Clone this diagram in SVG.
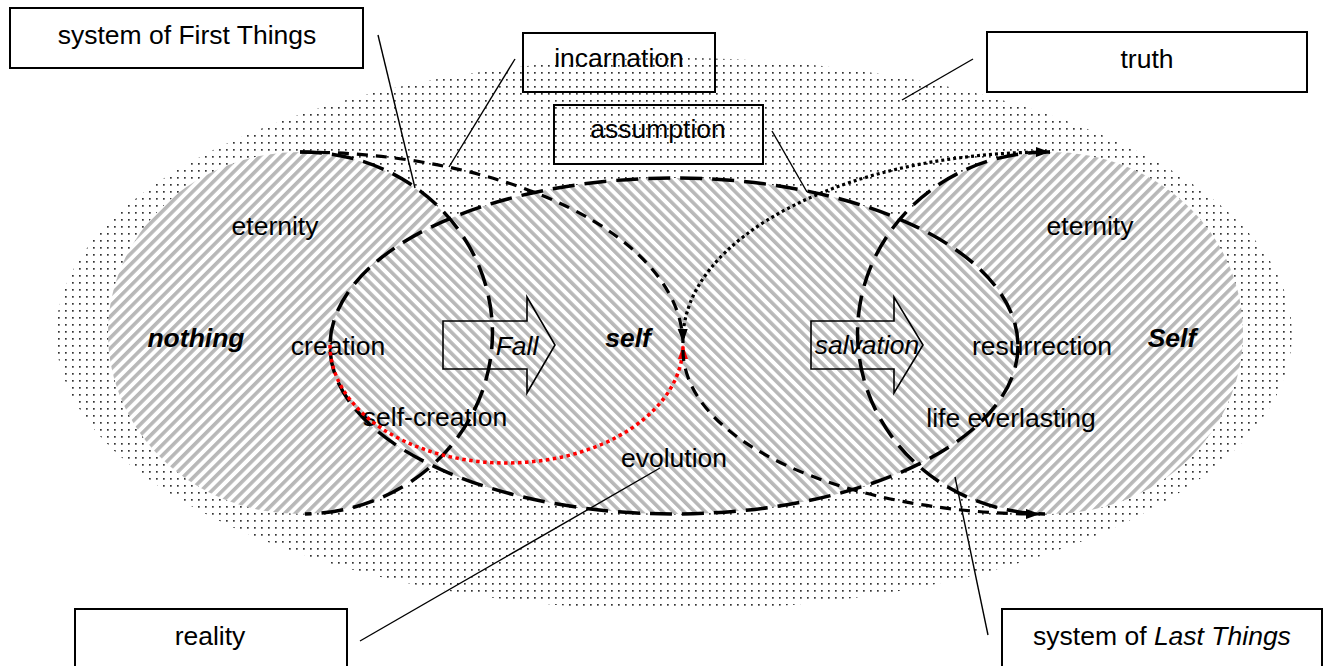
<svg xmlns="http://www.w3.org/2000/svg" width="1325" height="666" viewBox="0 0 1325 666">
<style>
text{font-family:"Liberation Sans",Arial,sans-serif;font-size:26.5px;fill:#000}
.c{text-anchor:middle}
.bi{font-weight:bold;font-style:italic}
.it{font-style:italic}
.box{fill:none;stroke:#000;stroke-width:2}
.lead{fill:none;stroke:#000;stroke-width:1.4}
.longdash{fill:none;stroke:#000;stroke-width:3.5;stroke-dasharray:22 10}
.shortdash{fill:none;stroke:#000;stroke-width:3.2;stroke-dasharray:11 8}
.dotk{fill:none;stroke:#000;stroke-width:3.2;stroke-dasharray:3 3}
.dotr{fill:none;stroke:#f00;stroke-width:3.5;stroke-dasharray:3.5 3.5}
.blk{fill:none;stroke:#000;stroke-width:1.6}
</style>
<defs>
<pattern id="dots" width="7" height="7" patternUnits="userSpaceOnUse"><rect x="2" y="2" width="1.7" height="1.7" fill="#333"/></pattern>
<pattern id="hatchR" width="7.5" height="7.5" patternUnits="userSpaceOnUse" patternTransform="rotate(45)"><rect width="7.5" height="7.5" fill="#fff"/><rect width="3.6" height="7.5" fill="#b8b8b8"/></pattern>
<pattern id="hatchL" width="7.5" height="7.5" patternUnits="userSpaceOnUse" patternTransform="rotate(-45)"><rect width="7.5" height="7.5" fill="#fff"/><rect width="3.6" height="7.5" fill="#b8b8b8"/></pattern>
<marker id="ak" markerUnits="userSpaceOnUse" markerWidth="16" markerHeight="12" refX="14" refY="6" orient="auto"><path d="M0,1 L14,6 L0,11 Z" fill="#000"/></marker>
<marker id="ar" markerUnits="userSpaceOnUse" markerWidth="16" markerHeight="12" refX="14" refY="6" orient="auto"><path d="M0,1 L14,6 L0,11 Z" fill="#f00"/></marker>
</defs>
<rect width="1325" height="666" fill="#fff"/>

<g id="truth-region">
<ellipse cx="674" cy="334" rx="618" ry="276" fill="url(#dots)"/>
</g>
<g id="first-things-region">
<ellipse cx="300" cy="333" rx="192" ry="181" fill="url(#hatchR)"/>
</g>
<g id="last-things-region">
<ellipse cx="1051" cy="333" rx="192" ry="181" fill="url(#hatchR)"/>
</g>
<g id="self-region">
<ellipse cx="674" cy="346" rx="344" ry="168" fill="url(#hatchL)"/>
</g>

<g id="labels">
<text class="c" x="275" y="235">eternity</text>
<text class="c" x="1090" y="235">eternity</text>
<text class="c bi" x="196" y="347">nothing</text>
<text class="c" x="338" y="355">creation</text>
<text class="c bi" x="628" y="347">self</text>
<text class="c" x="1042" y="355">resurrection</text>
<text class="c bi" x="1172" y="347">Self</text>
<text class="c" x="435" y="426">self-creation</text>
<text class="c" x="1011" y="427">life everlasting</text>
<text class="c" x="674" y="467">evolution</text>
</g>

<g id="connectors">
<ellipse class="longdash" cx="674" cy="346" rx="344" ry="168"/>
<path class="longdash" d="M300,152 A190,181 0 0 1 305,514"/>
<path class="longdash" d="M1050,152 A190,181 0 0 0 1045,514"/>
<path class="shortdash" d="M300,152 A383,193 0 0 1 683,343" marker-end="url(#ak)"/>
<path class="dotr" d="M330,345 A176.5,118 0 0 0 683,345" marker-end="url(#ar)"/>
<path class="dotk" d="M683,338 A367,188 0 0 1 1050,152" marker-end="url(#ak)"/>
<path class="shortdash" d="M683,350 A357,164 0 0 0 1040,514" marker-end="url(#ak)"/>
<line class="lead" x1="378" y1="35" x2="415" y2="188"/>
<line class="lead" x1="515" y1="59" x2="449" y2="167"/>
<line class="lead" x1="772" y1="131" x2="807" y2="192"/>
<line class="lead" x1="973" y1="59" x2="902" y2="100"/>
<line class="lead" x1="360" y1="641" x2="660" y2="468"/>
<line class="lead" x1="988" y1="635" x2="955" y2="477"/>
</g>

<g id="fall">
<path class="blk" d="M443,321 H527 V297 L555,345 L527,393 V369 H443 Z"/>
<text class="c it" x="517" y="355">Fall</text>
</g>
<g id="salvation">
<path class="blk" d="M811,321 H894 V297 L923,345 L894,393 V369 H811 Z"/>
<text class="c it" x="867" y="354">salvation</text>
</g>

<g id="system-first-things">
<rect class="box" x="10" y="8" width="353" height="60"/>
<text class="c" x="187" y="44">system of First Things</text>
</g>
<g id="incarnation">
<rect class="box" x="523" y="33" width="192" height="59"/>
<text class="c" x="619" y="67">incarnation</text>
</g>
<g id="assumption">
<rect class="box" x="554" y="105" width="209" height="59"/>
<text class="c" x="658" y="138">assumption</text>
</g>
<g id="truth">
<rect class="box" x="987" y="32" width="320" height="60"/>
<text class="c" x="1147" y="68">truth</text>
</g>
<g id="reality">
<rect class="box" x="75" y="609" width="272" height="60"/>
<text class="c" x="210" y="645">reality</text>
</g>
<g id="system-last-things">
<rect class="box" x="1002" y="609" width="320" height="60"/>
<text class="c" x="1162" y="645">system of <tspan class="it">Last Things</tspan></text>
</g>
</svg>
